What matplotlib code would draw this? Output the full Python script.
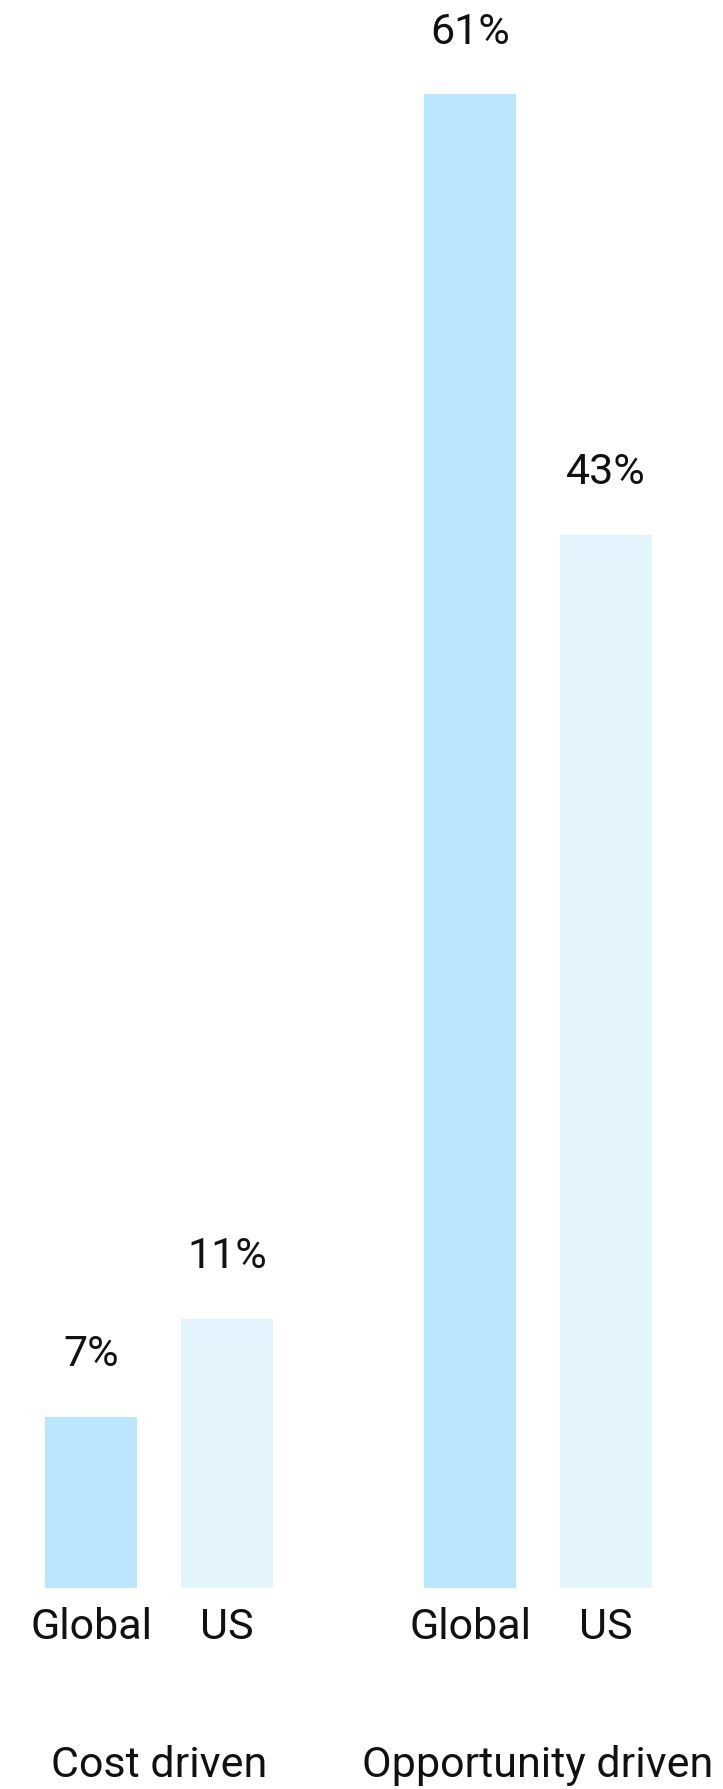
import matplotlib
matplotlib.use("Agg")
import matplotlib.pyplot as plt

groups = ["Cost driven", "Opportunity driven"]
series = ["Global", "US"]
global_values = [7, 61]
us_values = [11, 43]
colors = {"Global": "#BAE6FE", "US": "#E3F4FD"}

plt.rcParams['font.family'] = ['Roboto', 'DejaVu Sans']

W, H = 723, 1789
fig = plt.figure(figsize=(W / 100, H / 100), dpi=100)
base_px = 201
ax = fig.add_axes([0, base_px / H, 1, (H - base_px) / H])

bar_w = 1.0
group_gap = 4.12
offset = 0.739
group_centers = [i * group_gap for i in range(len(groups))]

xs, labels = [], []
for vals, off, name in [(global_values, -offset, "Global"), (us_values, offset, "US")]:
    pos = [gc + off for gc in group_centers]
    ax.bar(pos, vals, width=bar_w, color=colors[name], linewidth=0)
    for p, v in zip(pos, vals):
        ax.annotate(f"{v}%", xy=(p, v), xytext=(0, 36), textcoords="offset points",
                    ha="center", va="baseline", fontsize=31, color="#111111")
    xs += pos
    labels += [name] * len(pos)

ax.set_xticks(xs)
ax.set_xticklabels(labels, va="baseline", fontsize=31, color="#111111")
ax.tick_params(axis="x", length=0, pad=36.7)
ax.set_yticks([])
for s in ax.spines.values():
    s.set_visible(False)

for gc, g in zip(group_centers, groups):
    ax.annotate(g, xy=(gc, 0), xytext=(0, -136), textcoords="offset points",
                ha="center", va="baseline", fontsize=31, color="#111111",
                annotation_clip=False)

left = -159 / 92
ax.set_xlim(left, left + W / 92)
ax.set_ylim(0, (H - base_px) / 24.5)

fig.savefig("out.png", dpi=100)
